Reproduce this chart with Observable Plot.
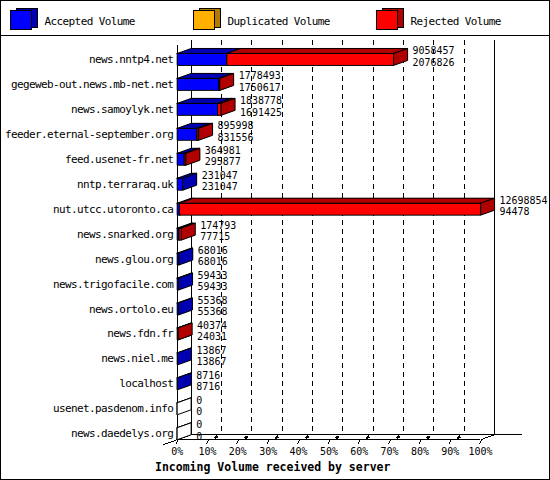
<!DOCTYPE html>
<html><head><meta charset="utf-8">
<script src="https://cdn.jsdelivr.net/npm/d3@7"></script>
<script src="https://cdn.jsdelivr.net/npm/@observablehq/plot@0.6"></script>
<style>
body{margin:0;background:#fff;}
#chart{position:relative;width:550px;height:480px;box-sizing:border-box;border:1px solid #000;overflow:hidden;background:#fff;font-family:"DejaVu Sans Mono",monospace;}
#legend{position:absolute;left:0;top:0;width:548px;height:34px;border-bottom:1px solid #000;}
#legend text{letter-spacing:-0.6px;}
#plot{position:absolute;left:-1px;top:35px;}
#plot svg{shape-rendering:crispEdges;}
#plot svg text.cat, #plot svg g.cat text{letter-spacing:-0.6px;}
#title{position:absolute;left:154px;top:460px;font:bold 11.5px "DejaVu Sans Mono",monospace;line-height:12px;white-space:nowrap;}
</style></head><body>
<div id="chart"><div id="legend"></div><div id="plot"></div><div id="title"></div></div>
<script>
const categories = ["news.nntp4.net","gegeweb-out.news.mb-net.net","news.samoylyk.net","feeder.eternal-september.org","feed.usenet-fr.net","nntp.terraraq.uk","nut.utcc.utoronto.ca","news.snarked.org","news.glou.org","news.trigofacile.com","news.ortolo.eu","news.fdn.fr","news.niel.me","localhost","usenet.pasdenom.info","news.daedelys.org"];
const totalVolume      = [9058457,1778493,1838778,895998,364981,231047,12698854,174793,68016,59433,55368,40374,13867,8716,0,0];
const acceptedVolume   = [2076826,1750617,1691425,831556,295877,231047,94478,77715,68016,59433,55368,24031,13867,8716,0,0];
const duplicatedVolume = [0,0,0,0,0,0,0,0,0,0,0,0,0,0,0,0];
const rejectedVolume   = [6981631,27876,147353,64442,69104,0,12604376,97078,0,0,0,16343,0,0,0,0];
const seriesNames  = ["Accepted Volume","Duplicated Volume","Rejected Volume"];
const seriesColors = ["#0000ff","#ffb000","#ff0000"];
const seriesShades = ["#0000b0","#b07b00","#b00000"];
const xTicks = [0,10,20,30,40,50,60,70,80,90,100];
const xTickLabels = ["0%","10%","20%","30%","40%","50%","60%","70%","80%","90%","100%"];
const xLabel = "Incoming Volume received by server";

// ---- legend ----
const lg = d3.select("#legend").append("svg").attr("width",548).attr("height",34);
seriesNames.forEach((name,k)=>{
  const fx = 9 + k*183;
  const g = lg.append("g").attr("stroke","#000").attr("stroke-width",1).attr("shape-rendering","crispEdges");
  g.append("rect").attr("x",fx+6.5).attr("y",7.5).attr("width",21).attr("height",19).attr("fill",seriesShades[k]);
  g.append("rect").attr("x",fx+0.5).attr("y",9.5).attr("width",21).attr("height",19).attr("fill",seriesColors[k]);
  lg.append("text").attr("x",fx+34.5).attr("y",20).attr("dy","0.35em")
    .attr("font-family","DejaVu Sans Mono").attr("font-size",11).text(name);
});
document.getElementById("title").textContent = xLabel;

// ---- geometry ----
const n = categories.length;
const FX0 = 177, FX1 = 481, ROW0 = 23, ROW_PX = 25;
const pxX = 100/(FX1-FX0);
const DX = 14*pxX, DY = -5/ROW_PX, HB = 6/ROW_PX;
const yTopF = -14/ROW_PX, yBotF = (n-1) + HB;
const maxV = d3.max(totalVolume);
const pct = v => v/maxV*100;

const polys = [];
let pid = 0;
function box(i,x0,x1,front,shade){
  const yT=i-HB, yB=i+HB;
  const faces = [
    [[[x0,yT],[x1,yT],[x1,yB],[x0,yB]], front],
    [[[x0,yT],[x0+DX,yT+DY],[x1+DX,yT+DY],[x1,yT]], shade],
    [[[x1,yT],[x1+DX,yT+DY],[x1+DX,yB+DY],[x1,yB]], shade]
  ];
  for (const [pts,c] of faces){
    pid++;
    for (const p of [...pts, pts[0]]) polys.push({id:pid, x:p[0], y:p[1], c});
  }
}
const series = [acceptedVolume, duplicatedVolume, rejectedVolume];
categories.forEach((cat,i)=>{
  if (totalVolume[i] === 0){ box(i,0,0,"#ffffff","#ffffff"); return; }
  let x = 0;
  series.forEach((s,k)=>{
    if (s[i] > 0){ const x1 = x + pct(s[i]); box(i,x,x1,seriesColors[k],seriesShades[k]); x = x1; }
  });
});
const rows = categories.map((c,i)=>({c,i,t:totalVolume[i],a:acceptedVolume[i],end:pct(totalVolume[i])}));

const chart = Plot.plot({
  width:550, height:422, margin:0,
  x:{domain:[0,100], range:[FX0,FX1], axis:null},
  y:{domain:[0,n-1], range:[ROW0, ROW0+ROW_PX*(n-1)], axis:null},
  color:{type:"identity"},
  style:{fontFamily:"DejaVu Sans Mono", fontSize:"10px", background:"transparent", overflow:"visible", color:"#000"},
  marks:[
    Plot.ruleX(xTicks.filter(t=>t>0&&t<100), {x:d=>d+DX, y1:yTopF+DY, y2:yBotF+DY, stroke:"#000", strokeWidth:1, strokeDasharray:"5,4"}),
    Plot.ruleX([0,100], {x:d=>d+DX, y1:yTopF+DY, y2:yBotF+DY, stroke:"#000", strokeWidth:1}),
    Plot.ruleX([0], {x:d=>d, y1:yTopF, y2:yBotF, stroke:"#000", strokeWidth:1}),
    Plot.ruleY([yBotF+DY], {y:d=>d, x1:DX, x2:100+3*DX, stroke:"#000", strokeWidth:1}),
    Plot.ruleY([yBotF], {y:d=>d, x1:0, x2:100, stroke:"#000", strokeWidth:1}),
    Plot.link([0], {x1:-DX, y1:yBotF-DY, x2:DX, y2:yBotF+DY, stroke:"#000", strokeWidth:1}),
    Plot.link([0], {x1:100, y1:yBotF, x2:100+DX, y2:yBotF+DY, stroke:"#000", strokeWidth:1}),
    Plot.link(xTicks, {x1:d=>d-1*pxX, y1:yBotF+4/ROW_PX, x2:d=>d+1*pxX, y2:yBotF, stroke:"#000", strokeWidth:1}),
    Plot.link(xTicks.filter(t=>t>0&&t<100), {x1:d=>d+7*pxX, y1:yBotF-1.5/ROW_PX, x2:d=>d+10*pxX, y2:yBotF-3.5/ROW_PX, stroke:"#000", strokeWidth:2.5}),
    Plot.line(polys, {x:"x", y:"y", z:"id", fill:d=>d.c, stroke:"#000", strokeWidth:1, curve:"linear"}),
    Plot.text(rows, {x:0, y:"i", text:"c", dx:-4, textAnchor:"end", fill:"#000", fontSize:11, className:"cat"}),
    Plot.text(rows, {x:"end", y:"i", text:d=>String(d.t), dx:19, dy:-8.5, textAnchor:"start", fill:"#000", fontSize:10}),
    Plot.text(rows, {x:"end", y:"i", text:d=>String(d.a), dx:19, dy:3, textAnchor:"start", fill:"#000", fontSize:10}),
    Plot.text(xTicks, {x:d=>d, y:yBotF, text:(d,j)=>xTickLabels[j], dy:12, textAnchor:"middle", fill:"#000", fontSize:10})
  ]
});
document.getElementById("plot").appendChild(chart);
</script>
</body></html>
